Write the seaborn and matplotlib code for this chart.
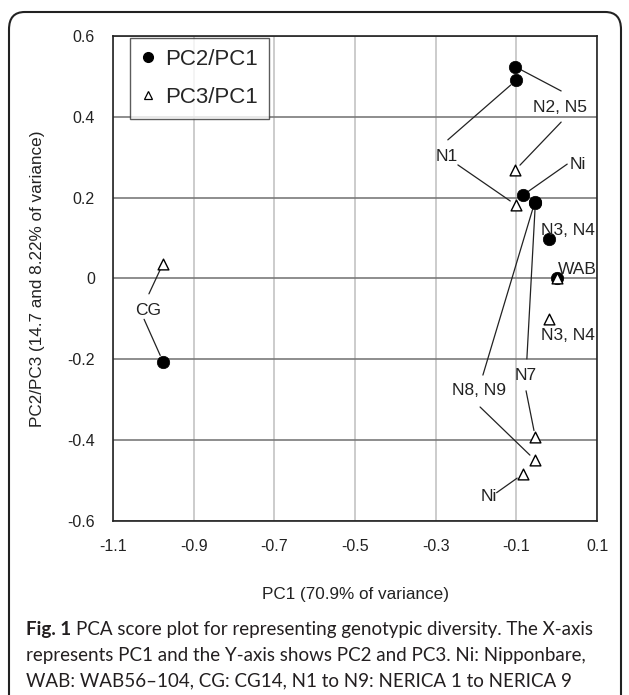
import matplotlib
matplotlib.use('Agg')
import matplotlib.pyplot as plt
import seaborn as sns
import pandas as pd
from matplotlib.lines import Line2D
from matplotlib.patches import FancyBboxPatch

# Data: one row per labelled genotype group
groups = ['N2, N5', 'N1', 'Ni', 'N8, N9', 'N7', 'N3, N4', 'WAB', 'CG']
pc1 = [-0.103, -0.101, -0.084, -0.054, -0.053, -0.019, 0.000, -0.976]
pc2 = [0.524, 0.490, 0.206, 0.190, 0.186, 0.098, 0.002, -0.206]
pc3 = [0.268, 0.182, -0.484, -0.449, -0.393, -0.100, 0.000, 0.037]

xticks = [-1.1, -0.9, -0.7, -0.5, -0.3, -0.1, 0.1]
xtick_labels = ['-1.1', '-0.9', '-0.7', '-0.5', '-0.3', '-0.1', '0.1']
yticks = [-0.6, -0.4, -0.2, 0.0, 0.2, 0.4, 0.6]
ytick_labels = ['-0.6', '-0.4', '-0.2', '0', '0.2', '0.4', '0.6']

df = pd.DataFrame({'group': groups, 'PC1': pc1, 'PC2': pc2, 'PC3': pc3})

# label text positions (data coords) and leader lines: (group, series, start x, start y)
label_pos = [('N2, N5', 0.008, 0.424), ('N1', -0.273, 0.301), ('Ni', 0.053, 0.281),
             ('N3, N4', 0.028, 0.118), ('WAB', 0.052, 0.021), ('N3, N4', 0.028, -0.142),
             ('N7', -0.076, -0.240), ('N8, N9', -0.192, -0.278), ('Ni', -0.168, -0.540),
             ('CG', -1.012, -0.078)]
leaders = [('N2, N5', 'PC2', 0.011, 0.464), ('N2, N5', 'PC3', 0.011, 0.387),
           ('N1', 'PC2', -0.270, 0.343), ('N1', 'PC3', -0.245, 0.281),
           ('Ni', 'PC2', 0.026, 0.283), ('N8, N9', 'PC2', -0.183, -0.239),
           ('N7', 'PC2', -0.074, -0.199), ('N7', 'PC3', -0.076, -0.278),
           ('N8, N9', 'PC3', -0.190, -0.318), ('Ni', 'PC3', -0.149, -0.530),
           ('CG', 'PC3', -1.011, -0.038), ('CG', 'PC2', -1.023, -0.101)]

sns.set_style('white')
plt.rcParams['font.family'] = ['Liberation Sans', 'DejaVu Sans']

fig = plt.figure(figsize=(6.29, 6.95), dpi=100)
ax = fig.add_axes([0.1797, 0.2504, 0.7695, 0.6978])

sns.scatterplot(data=df, x='PC1', y='PC2', marker='o', s=80, color='black',
                edgecolor='black', linewidth=0.5, ax=ax, zorder=4, legend=False)
sns.scatterplot(data=df, x='PC1', y='PC3', marker='^', s=60, color='white',
                edgecolor='black', linewidth=1.0, ax=ax, zorder=4, legend=False)

for txt, lx, ly in label_pos:
    ax.text(lx, ly, txt, fontsize=12.5, ha='center', va='center', color='#222', zorder=5)

for g, series, sx, sy in leaders:
    row = df[df['group'] == g].iloc[0]
    ax.annotate('', xy=(row['PC1'], row[series]), xytext=(sx, sy),
                arrowprops=dict(arrowstyle='-', color='#222', lw=0.9,
                                shrinkA=0, shrinkB=5), zorder=3)

ax.set_xlim(-1.1, 0.1)
ax.set_ylim(-0.6, 0.6)
ax.set_xticks(xticks)
ax.set_xticklabels(xtick_labels)
ax.set_yticks(yticks)
ax.set_yticklabels(ytick_labels)
ax.tick_params(length=0, labelsize=11.5, pad=13, colors='#222')
ax.xaxis.grid(True, color='#c4c4c4', lw=1.2)
ax.yaxis.grid(True, color='#7a7a7a', lw=1.2)
ax.set_axisbelow(True)
for sp in ax.spines.values():
    sp.set_visible(True)
    sp.set_color('#222')
    sp.set_linewidth(1.2)

ax.set_xlabel('PC1 (70.9% of variance)', fontsize=12.3, labelpad=24, color='#222')
ax.set_ylabel('PC2/PC3 (14.7 and 8.22% of variance)', fontsize=12.3, labelpad=16, color='#222')

handles = [Line2D([], [], marker='o', ls='', color='black', markersize=7),
           Line2D([], [], marker='^', ls='', markerfacecolor='white',
                  markeredgecolor='black', markersize=6, markeredgewidth=0.9)]
leg = ax.legend(handles, ['PC2/PC1', 'PC3/PC1'], loc='upper left',
                bbox_to_anchor=(0.035, 0.996), fontsize=16, frameon=True,
                fancybox=False, edgecolor='#333', handlelength=0.6,
                handletextpad=0.5, borderpad=0.5, labelspacing=0.75, borderaxespad=0)
leg.get_frame().set_linewidth(1.0)

# rounded figure border
border = FancyBboxPatch((9 / 629, -0.05), 612 / 629, 0.05 + (695 - 12) / 695,
                        boxstyle='round,pad=0,rounding_size=0.025',
                        transform=fig.transFigure, fill=False, ec='#222', lw=1.5)
fig.patches.append(border)

# caption
cap_font = ['Lato', 'DejaVu Sans']
cap_size = 13.5
lines = ['PCA score plot for representing genotypic diversity. The X-axis',
         'represents PC1 and the Y-axis shows PC2 and PC3. Ni: Nipponbare,',
         'WAB: WAB56\u2013104, CG: CG14, N1 to N9: NERICA 1 to NERICA 9']
x0 = 26 / 629
bold = fig.text(x0, 1 - 629 / 695, 'Fig. 1', fontsize=cap_size, fontweight='bold',
                family=cap_font, va='center', color='#231f20')
fig.canvas.draw()
bb = bold.get_window_extent().transformed(fig.transFigure.inverted())
fig.text(bb.x1 + 5 / 629, 1 - 629 / 695, lines[0], fontsize=cap_size, family=cap_font,
         va='center', color='#231f20')
fig.text(x0, 1 - 655 / 695, lines[1], fontsize=cap_size, family=cap_font, va='center', color='#231f20')
fig.text(x0, 1 - 681 / 695, lines[2], fontsize=cap_size, family=cap_font, va='center', color='#231f20')

fig.savefig('out.png', dpi=100)
